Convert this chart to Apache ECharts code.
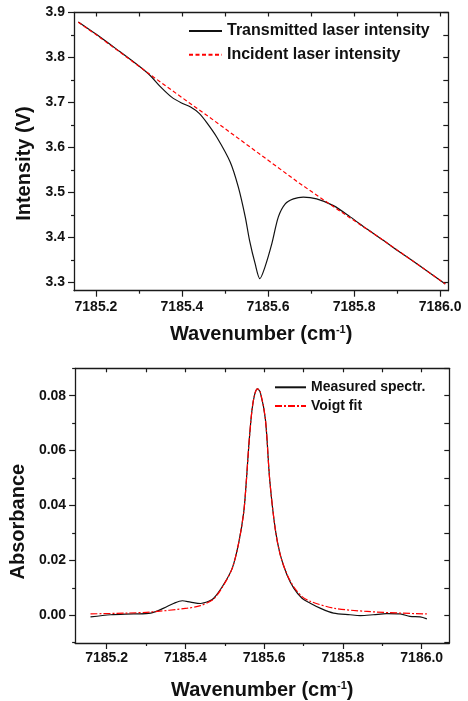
<!DOCTYPE html>
<html>
<head>
<meta charset="utf-8">
<script src="https://cdn.jsdelivr.net/npm/echarts@6/dist/echarts.min.js"></script>
<style>
html,body{margin:0;padding:0;background:#fff;}
#chart{width:468px;height:701px;}
</style>
</head>
<body>
<div id="chart"></div>
<script>
// ---------- Data ----------
// Top panel: transmitted laser intensity (V) vs wavenumber (cm-1)
const transWavenumber = [7185.159, 7185.20, 7185.25, 7185.30, 7185.326, 7185.349, 7185.376, 7185.399, 7185.42, 7185.44,
  7185.458, 7185.481, 7185.512, 7185.531, 7185.547, 7185.557, 7185.570, 7185.581, 7185.593, 7185.609,
  7185.624, 7185.640, 7185.659, 7185.682, 7185.713, 7185.752, 7185.791, 7185.83, 7185.868, 7185.90,
  7185.95, 7186.012];
const transmitted = [3.879, 3.852, 3.817, 3.781, 3.760, 3.736, 3.712, 3.699, 3.690, 3.676,
  3.655, 3.623, 3.568, 3.512, 3.446, 3.394, 3.342, 3.309, 3.335, 3.387,
  3.446, 3.475, 3.486, 3.490, 3.486, 3.471, 3.446, 3.419, 3.394, 3.372,
  3.339, 3.297];
// Top panel: incident laser intensity (V)
const incWavenumber = [7185.159, 7185.20, 7185.25, 7185.326, 7185.40, 7185.473, 7185.55, 7185.674, 7185.75, 7185.868, 7185.95, 7186.012];
const incident = [3.8785, 3.851, 3.816, 3.762, 3.711, 3.661, 3.607, 3.520, 3.470, 3.394, 3.339, 3.297];

// Bottom panel: measured absorbance spectrum
const measWavenumber = [7185.159, 7185.210, 7185.269, 7185.312, 7185.345, 7185.371, 7185.392, 7185.413, 7185.438, 7185.459,
  7185.472, 7185.497, 7185.519, 7185.535, 7185.548, 7185.555, 7185.561, 7185.569, 7185.576, 7185.583,
  7185.590, 7185.603, 7185.614, 7185.628, 7185.641, 7185.658, 7185.675, 7185.696, 7185.717, 7185.742,
  7185.776, 7185.818, 7185.844, 7185.877, 7185.911, 7185.945, 7185.970, 7185.996, 7186.013];
const measured = [-0.0006, 0.0002, 0.0005, 0.0008, 0.0026, 0.0044, 0.0053, 0.0048, 0.0043, 0.0051,
  0.0062, 0.0112, 0.0172, 0.0262, 0.0375, 0.0496, 0.0620, 0.0748, 0.0806, 0.0825,
  0.0813, 0.0715, 0.0494, 0.0315, 0.0219, 0.0147, 0.0099, 0.0062, 0.0044, 0.0026,
  0.0008, 0.0002, -0.0001, 0.0002, 0.0006, 0.0005, -0.0004, -0.0006, -0.0013];
// Bottom panel: Voigt fit
const fitWavenumber = [7185.159, 7185.25, 7185.312, 7185.405, 7185.438, 7185.472, 7185.497, 7185.519, 7185.535, 7185.548,
  7185.555, 7185.561, 7185.569, 7185.576, 7185.583, 7185.590, 7185.603, 7185.614, 7185.628, 7185.641,
  7185.658, 7185.675, 7185.696, 7185.717, 7185.776, 7185.861, 7185.945, 7186.013];
const voigtFit = [0.0005, 0.0008, 0.0012, 0.0026, 0.0035, 0.0060, 0.0110, 0.0172, 0.0262, 0.0375,
  0.0496, 0.0620, 0.0748, 0.0806, 0.0825, 0.0813, 0.0715, 0.0494, 0.0315, 0.0219,
  0.0149, 0.0104, 0.0068, 0.0051, 0.0026, 0.0014, 0.0008, 0.0005];

// Tick positions / labels
const xMajorTicks = [7185.2, 7185.4, 7185.6, 7185.8, 7186.0];
const xMinorTicks = [7185.3, 7185.5, 7185.7, 7185.9];
const xTopTicks = [7185.2, 7185.3, 7185.4, 7185.5, 7185.6, 7185.7, 7185.8, 7185.9, 7186.0];
const intensityMajor = [3.3, 3.4, 3.5, 3.6, 3.7, 3.8, 3.9];
const intensityMinor = [3.35, 3.45, 3.55, 3.65, 3.75, 3.85];
const absorbMajor = [0.00, 0.02, 0.04, 0.06, 0.08];
const absorbMinor = [-0.01, 0.01, 0.03, 0.05, 0.07, 0.09];

const seriesNames = ['Transmitted laser intensity', 'Incident laser intensity', 'Measured spectr.', 'Voigt fit'];
const xTitle = 'Wavenumber (cm{sup|-1})';
const yTitleTop = 'Intensity (V)';
const yTitleBottom = 'Absorbance';

// ---------- Chart ----------
const FONT = '"Liberation Sans", Arial, sans-serif';
const AX = '#1a1a1a';
const zip = (xs, ys) => xs.map((x, i) => [x, ys[i]]);

function xAxes(gridIndex, min, max, nameGap, labelMargin) {
  const base = { type: 'value', gridIndex, min, max, splitLine: { show: false } };
  return [
    Object.assign({}, base, {
      position: 'bottom',
      axisLine: { show: true, onZero: false, lineStyle: { color: AX, width: 1.3 } },
      axisTick: { show: true, inside: false, length: 6, customValues: xMajorTicks, lineStyle: { color: AX, width: 1.2 } },
      axisLabel: { show: true, customValues: xMajorTicks, formatter: v => Number(v).toFixed(1), margin: labelMargin,
        fontFamily: FONT, fontSize: 14, fontWeight: 'bold', color: '#111' },
      name: xTitle, nameLocation: 'middle', nameGap,
      nameTextStyle: { fontFamily: FONT, fontSize: 20, fontWeight: 'bold', color: '#111',
        rich: { sup: { fontFamily: FONT, fontSize: 11, fontWeight: 'bold', color: '#111', padding: [0, 0, 9, 0] } } }
    }),
    Object.assign({}, base, {
      position: 'bottom',
      axisLine: { show: false, onZero: false },
      axisTick: { show: true, inside: false, length: 3, customValues: xMinorTicks, lineStyle: { color: AX, width: 1.2 } },
      axisLabel: { show: false }
    }),
    Object.assign({}, base, {
      position: 'top',
      axisLine: { show: true, onZero: false, lineStyle: { color: AX, width: 1.3 } },
      axisTick: { show: true, inside: true, length: 4, customValues: xTopTicks, lineStyle: { color: AX, width: 1.2 } },
      axisLabel: { show: false }
    })
  ];
}

function yAxes(gridIndex, min, max, major, minor, digits, name, nameGap, namePad) {
  const base = { type: 'value', gridIndex, min, max, splitLine: { show: false } };
  return [
    Object.assign({}, base, {
      position: 'left',
      axisLine: { show: true, onZero: false, lineStyle: { color: AX, width: 1.3 } },
      axisTick: { show: true, inside: false, length: 6, customValues: major, lineStyle: { color: AX, width: 1.2 } },
      axisLabel: { show: true, customValues: major, formatter: v => Number(v).toFixed(digits), margin: 9,
        fontFamily: FONT, fontSize: 14, fontWeight: 'bold', color: '#111' },
      name, nameLocation: 'middle', nameGap,
      nameTextStyle: { fontFamily: FONT, fontSize: 20, fontWeight: 'bold', color: '#111', padding: namePad }
    }),
    Object.assign({}, base, {
      position: 'left',
      axisLine: { show: false, onZero: false },
      axisTick: { show: true, inside: false, length: 3, customValues: minor, lineStyle: { color: AX, width: 1.2 } },
      axisLabel: { show: false }
    }),
    Object.assign({}, base, {
      position: 'right',
      axisLine: { show: true, onZero: false, lineStyle: { color: AX, width: 1.3 } },
      axisTick: { show: true, inside: true, length: 5, customValues: major.concat(minor), lineStyle: { color: AX, width: 1.2 } },
      axisLabel: { show: false }
    })
  ];
}

const chart = echarts.init(document.getElementById('chart'), null, { renderer: 'canvas' });
chart.setOption({
  animation: false,
  backgroundColor: '#fff',
  grid: [
    { left: 74, right: 19.7, top: 12.5, height: 278.2 },
    { left: 74.3, right: 18.7, top: 368.3, height: 277.4 }
  ],
  xAxis: [].concat(
    xAxes(0, 7185.149, 7186.019, 34, 9),
    xAxes(1, 7185.12, 7186.07, 37, 8)
  ),
  yAxis: [].concat(
    yAxes(0, 3.282, 3.9, intensityMajor, intensityMinor, 1, yTitleTop, 39, [0, 24, 0, 0]),
    yAxes(1, -0.0101, 0.09, absorbMajor, absorbMinor, 2, yTitleBottom, 44, [0, 32, 0, 0])
  ),
  legend: [
    {
      data: [seriesNames[0], seriesNames[1]], orient: 'vertical', left: 188, top: 23,
      itemWidth: 33, itemHeight: 14, itemGap: 7.7, padding: 0,
      itemStyle: { opacity: 0 },
      textStyle: { fontFamily: FONT, fontSize: 16, fontWeight: 'bold', color: '#111' }
    },
    {
      data: [seriesNames[2], seriesNames[3]], orient: 'vertical', left: 274, top: 380.3,
      itemWidth: 31, itemHeight: 14, itemGap: 4.7, padding: 0,
      itemStyle: { opacity: 0 },
      textStyle: { fontFamily: FONT, fontSize: 14, fontWeight: 'bold', color: '#111' }
    }
  ],
  series: [
    { name: seriesNames[0], type: 'line', xAxisIndex: 0, yAxisIndex: 0, data: zip(transWavenumber, transmitted),
      symbol: 'none', smooth: 0.3, lineStyle: { color: '#111', width: 1.2 }, itemStyle: { color: '#111' } },
    { name: seriesNames[1], type: 'line', xAxisIndex: 0, yAxisIndex: 0, data: zip(incWavenumber, incident),
      symbol: 'none', lineStyle: { color: '#ff0000', width: 1.2, type: [4, 2.5] }, itemStyle: { color: '#ff0000' } },
    { name: seriesNames[2], type: 'line', xAxisIndex: 3, yAxisIndex: 3, data: zip(measWavenumber, measured),
      symbol: 'none', smooth: 0.3, lineStyle: { color: '#111', width: 1.2 }, itemStyle: { color: '#111' } },
    { name: seriesNames[3], type: 'line', xAxisIndex: 3, yAxisIndex: 3, data: zip(fitWavenumber, voigtFit),
      symbol: 'none', smooth: 0.3, lineStyle: { color: '#ff0000', width: 1.2, type: [7, 2, 2, 2] }, itemStyle: { color: '#ff0000' } }
  ]
});
</script>
</body>
</html>
